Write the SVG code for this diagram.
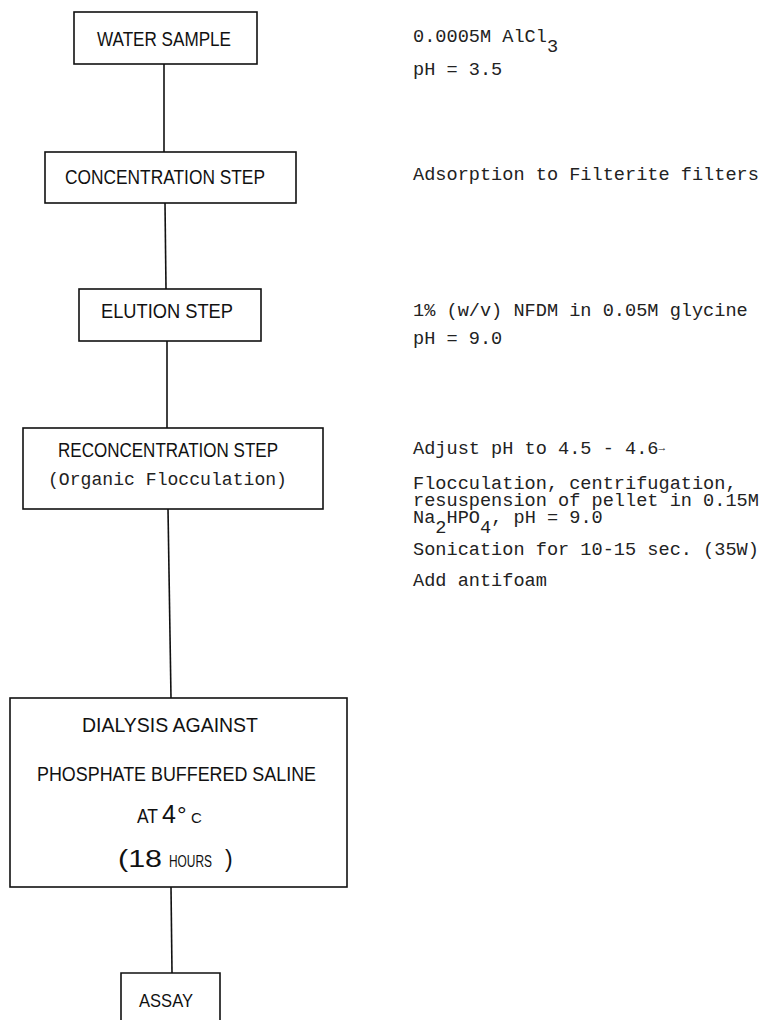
<svg xmlns="http://www.w3.org/2000/svg" width="767" height="1020" viewBox="0 0 767 1020">
<style>
.box{fill:none;stroke:#111;stroke-width:1.6}
.conn line{stroke:#111;stroke-width:1.6}
.lbl{font-family:"Liberation Sans Narrow","Liberation Sans",sans-serif;font-size:20px;fill:#111}
.tw{font-family:"Liberation Mono","DejaVu Sans Mono",monospace;font-size:18.6px;fill:#222}
</style>
<rect width="767" height="1020" fill="#fff"/>
<g class="conn" id="connectors">
<line x1="164" y1="64" x2="164" y2="152"/>
<line x1="165" y1="203" x2="166" y2="289"/>
<line x1="167" y1="341" x2="167" y2="428"/>
<line x1="168" y1="509" x2="171" y2="698"/>
<line x1="171" y1="887" x2="172" y2="973"/>
</g>
<g id="water">
<rect class="box" x="74" y="12" width="183" height="52"/>
<text class="lbl" x="97" y="46" textLength="134" lengthAdjust="spacingAndGlyphs">WATER SAMPLE</text>
</g>
<g id="concentration">
<rect class="box" x="45" y="152" width="251" height="51"/>
<text class="lbl" x="65" y="184" textLength="200" lengthAdjust="spacingAndGlyphs">CONCENTRATION STEP</text>
</g>
<g id="elution">
<rect class="box" x="79" y="289" width="182" height="52"/>
<text class="lbl" x="101" y="318" textLength="132" lengthAdjust="spacingAndGlyphs">ELUTION STEP</text>
</g>
<g id="reconcentration">
<rect class="box" x="23" y="428" width="300" height="81"/>
<text class="lbl" x="58" y="457" textLength="220" lengthAdjust="spacingAndGlyphs">RECONCENTRATION STEP</text>
<text class="tw" x="48" y="485" style="font-size:18.1px" textLength="239" lengthAdjust="spacingAndGlyphs">(Organic Flocculation)</text>
</g>
<g id="dialysis">
<rect class="box" x="10" y="698" width="337" height="189"/>
<text class="lbl" x="82" y="732" textLength="176" lengthAdjust="spacingAndGlyphs">DIALYSIS AGAINST</text>
<text class="lbl" x="37" y="781" textLength="279" lengthAdjust="spacingAndGlyphs">PHOSPHATE BUFFERED SALINE</text>
<text class="lbl" y="823"><tspan x="137" textLength="21" lengthAdjust="spacingAndGlyphs">AT</tspan><tspan x="162" style="font-size:25px;font-family:'Liberation Sans',sans-serif">4</tspan><tspan x="177" style="font-size:24px">°</tspan><tspan x="191" style="font-size:15px">C</tspan></text>
<text class="lbl" x="118" y="867" style="font-size:23px" textLength="44" lengthAdjust="spacingAndGlyphs">(18</text>
<text class="lbl" x="169" y="867" style="font-size:16px" textLength="43" lengthAdjust="spacingAndGlyphs">HOURS</text>
<text class="lbl" x="225" y="867" style="font-size:23px">)</text>
</g>
<g id="assay">
<path class="box" d="M121,1021 V973 H220 V1021"/>
<text x="139" y="1007" style="font-family:'Liberation Sans',sans-serif;font-size:19px;fill:#111" textLength="54" lengthAdjust="spacingAndGlyphs">ASSAY</text>
</g>
<g id="notes">
<text class="tw" x="413" y="42">0.0005M AlCl<tspan dy="10">3</tspan></text>
<text class="tw" x="413" y="75">pH = 3.5</text>
<text class="tw" x="413" y="180">Adsorption to Filterite filters</text>
<text class="tw" x="413" y="316">1% (w/v) NFDM in 0.05M glycine</text>
<text class="tw" x="413" y="344">pH = 9.0</text>
<text class="tw" x="413" y="454">Adjust pH to 4.5 - 4.6<tspan style="font-size:11px" dy="-3">→</tspan></text>
<text class="tw" x="413" y="489">Flocculation, centrifugation,</text>
<text class="tw" x="413" y="506">resuspension of pellet in 0.15M</text>
<text class="tw" x="413" y="523">Na<tspan dy="10">2</tspan><tspan dy="-10">HPO</tspan><tspan dy="10">4</tspan><tspan dy="-10">, pH = 9.0</tspan></text>
<text class="tw" x="413" y="555">Sonication for 10-15 sec. (35W)</text>
<text class="tw" x="413" y="586">Add antifoam</text>
</g>
</svg>
